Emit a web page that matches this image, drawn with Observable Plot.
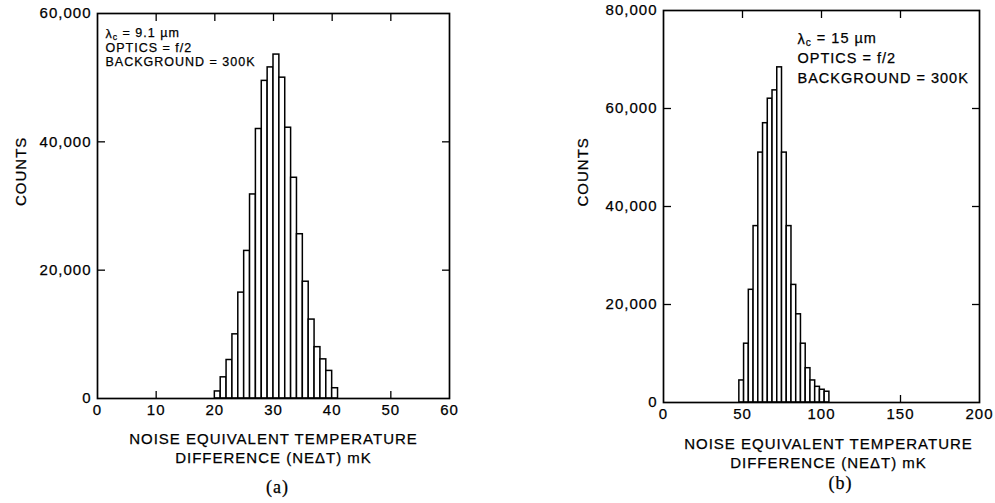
<!DOCTYPE html>
<html><head><meta charset="utf-8">
<script src="https://cdn.jsdelivr.net/npm/d3@7"></script>
<script src="https://cdn.jsdelivr.net/npm/@observablehq/plot@0.6"></script>
<style>
body{margin:0;background:#fff;width:995px;height:503px;position:relative;overflow:hidden}
#a{position:absolute;left:0;top:0}
#b{position:absolute;left:497px;top:0}
svg text{stroke:black;stroke-width:0.25px}
</style></head><body><div id="a"></div><div id="b"></div>
<script>
// ---- data (a): lambda_c = 9.1 um ----
const leftBinStarts = [20,21,22,23,24,25,26,27,28,29,30,31,32,33,34,35,36,37,38,39,40];
const leftBinWidth = 1;
const leftCounts = [1100,3300,6000,10000,16500,23000,31800,42000,49500,51600,53600,50000,42200,34400,25600,18200,12300,8000,6100,4300,1600];
const leftXTicks = [0,10,20,30,40,50,60];
const leftYTicks = [0,20000,40000,60000];
const leftInnerX = [10,20,30,40,50];
const leftInnerY = [20000,40000];
const leftAnnot = ["λc = 9.1 µm","OPTICS = f/2","BACKGROUND = 300K"];

// ---- data (b): lambda_c = 15 um ----
const rightBinStarts = [48,51,54,57,60,63,66,69,72,75,78,81,84,87,90,93,96,99,102];
const rightBinWidth = 3;
const rightCounts = [4500,12000,23000,36000,51000,57000,62000,63700,68400,51000,36000,24000,18000,12000,7000,4500,3200,2600,2200];
const rightXTicks = [0,50,100,150,200];
const rightYTicks = [0,20000,40000,60000,80000];
const rightInnerX = [50,100,150];
const rightInnerY = [20000,40000,60000];
const rightAnnot = ["λc = 15 µm","OPTICS = f/2","BACKGROUND = 300K"];

const xTitle = ["NOISE EQUIVALENT TEMPERATURE","DIFFERENCE (NE\u0394T) mK"];
const yTitle = "COUNTS";
const fmt = d3.format(",");

function chart(o) {
  const bars = o.bins.map((b, i) => ({x1: b, x2: b + o.binW, y: o.counts[i]}));
  const blank = () => "";
  const svg = Plot.plot({
    width: o.width, height: 503,
    marginLeft: o.mL, marginRight: o.mR, marginTop: o.mT, marginBottom: o.mB,
    style: {fontFamily: "'Liberation Sans', Arial, sans-serif", fontSize: "15px", color: "black", background: "white", letterSpacing: "1px", overflow: "visible"},
    x: {domain: o.xDomain, label: null},
    y: {domain: o.yDomain, label: null},
    marks: [
      Plot.axisY(o.innerY, {anchor: "left", tickSize: -8, tickFormat: blank, label: null, strokeWidth: 1.3}),
      Plot.axisY(o.innerY, {anchor: "right", tickSize: -8, tickFormat: blank, label: null, strokeWidth: 1.3}),
      Plot.axisX(o.innerX, {anchor: "top", tickSize: -7, tickFormat: blank, label: null, strokeWidth: 1.3}),
      Plot.axisX(o.innerX, {anchor: "bottom", tickSize: -7, tickFormat: blank, label: null, strokeWidth: 1.3}),
      Plot.rectY(bars, {x1: "x1", x2: "x2", y: "y", fill: "white", stroke: "black", strokeWidth: 1.5}),
      Plot.frame({stroke: "black", strokeWidth: 1.7}),
      Plot.axisY(o.yTicks, {anchor: "left", tickSize: 0, tickPadding: 6, tickFormat: fmt, label: null, fontSize: 15}),
      Plot.axisX(o.xTicks, {anchor: "bottom", tickSize: 0, tickPadding: 6, label: null, fontSize: 15}),
      Plot.text([yTitle], {frameAnchor: "left", rotate: -90, dx: o.countsDx, fontSize: 15, fill: "black"}),
      Plot.text([xTitle.join("\n")], {frameAnchor: "bottom", dx: o.titleDx, dy: o.titleDy, lineAnchor: "top", lineHeight: 1.27, fontSize: 15, letterSpacing: "1.2px", fill: "black"}),
      Plot.text([o.annot.join("\n")], {frameAnchor: "top-left", textAnchor: "start", lineAnchor: "top", dx: o.aDx, dy: o.aDy, fontSize: o.aSize, lineHeight: o.aLine, letterSpacing: o.aLS, fill: "black"}),
      Plot.text([o.tag], {frameAnchor: "bottom", dx: o.tagDx, dy: o.tagDy, lineAnchor: "middle", fontSize: 18, fontFamily: "'Liberation Serif', serif", letterSpacing: "0px", fill: "black"})
    ]
  });
  // subscript "c" on lambda
  d3.select(svg).selectAll("tspan, text").each(function() {
    const el = d3.select(this);
    if (this.childElementCount === 0 && this.textContent.startsWith("λc")) {
      const rest = this.textContent.slice(2);
      el.text("λ");
      el.append("tspan").attr("dy", "0.2em").attr("font-size", "0.7em").text("c");
      el.append("tspan").attr("dy", "-0.2em").text(rest);
    }
  });
  return svg;
}

document.getElementById("a").append(chart({
  bins: leftBinStarts, counts: leftCounts, binW: leftBinWidth,
  width: 480, mL: 97, mR: 31, mT: 13, mB: 105,
  xDomain: [0, 60], yDomain: [0, 60000],
  xTicks: leftXTicks, yTicks: leftYTicks, innerX: leftInnerX, innerY: leftInnerY,
  countsDx: -76, titleDx: 0, titleDy: 32, tag: "(a)", tagDx: 4, tagDy: 89,
  annot: leftAnnot, aDx: 8, aDy: 14, aSize: 12.5, aLine: 1.16, aLS: "1.2px"
}));

document.getElementById("b").append(chart({
  bins: rightBinStarts, counts: rightCounts, binW: rightBinWidth,
  width: 498, mL: 166, mR: 16, mT: 10, mB: 101,
  xDomain: [0, 200], yDomain: [0, 80000],
  xTicks: rightXTicks, yTicks: rightYTicks, innerX: rightInnerX, innerY: rightInnerY,
  countsDx: -80, titleDx: 7, titleDy: 33, tag: "(b)", tagDx: 19, tagDy: 81,
  annot: rightAnnot, aDx: 134, aDy: 19, aSize: 14.5, aLine: 1.38, aLS: "1.1px"
}));
</script>
</body></html>
